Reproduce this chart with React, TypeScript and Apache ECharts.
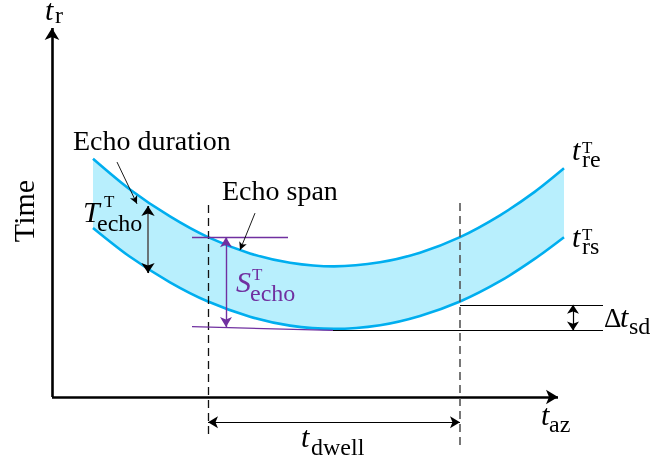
import React, { useEffect, useRef } from "react";
import * as echarts from "echarts";

// ---- curve data (azimuth time vs. range time, arbitrary units) ----
const azimuth = [0.82, 1.56, 2.36, 3.12, 3.96, 4.76, 5.64, 6.56, 7.36, 8.16, 8.96, 9.66, 10.24];
const echoEnd = [6.44, 5.61, 4.88, 4.32, 3.88, 3.63, 3.53, 3.64, 3.9, 4.32, 4.91, 5.55, 6.18]; // t_re^T
const echoStart = [4.57, 3.79, 3.1, 2.58, 2.17, 1.93, 1.84, 1.94, 2.19, 2.58, 3.13, 3.74, 4.32]; // t_rs^T

// ---- annotation values ----
const xAxisEnd = 10.12;
const yAxisEnd = 9.97;
const dwellAz = [3.12, 8.16];
const dwellTop = [5.19, 5.24];
const dwellBottom = [-1.03, -1.3];
const dwellArrowY = -0.68;
const spanTopY = 4.32;
const spanTopAz = [2.8, 4.72];
const spanArrowAz = 3.48;
const spanArrowY = [4.32, 1.89];
const tangentStart = [2.8, 1.9];
const tangentMid = [5.62, 1.8];
const refLineEndAz = 11.02;
const sdTopY = 2.49;
const sdArrowAz = 10.42;
const sdArrowY = [2.49, 1.8];
const durArrowAz = 1.92;
const durArrowY = [5.16, 3.35];
const durHeadLen = 0.2;
const durPointer = [[1.3, 6.35], [1.7, 5.22]];
const spanPointer = [[4.06, 4.97], [3.76, 3.97]];

const labelEchoDuration = "Echo duration";
const labelEchoSpan = "Echo span";
const labelTime = "Time";

const BLUE = "#00AEEF";
const FILL = "#B8EFFD";
const PURPLE = "#7030A0";
const SERIF = '"Liberation Serif", "Times New Roman", serif';

function txt(x: number, baseline: number, text: string, size: number, italic = false, color = "#000") {
  return {
    type: "text",
    x,
    y: baseline - 0.34 * size,
    silent: true,
    z: 10,
    style: {
      text,
      fontSize: size,
      fontFamily: SERIF,
      fontStyle: italic ? "italic" : "normal",
      fill: color,
      align: "left",
      verticalAlign: "middle",
    },
  };
}

function seg(a: number[], b: number[], style: any, symA = "none", symB = "none", size: number[] = [10, 10]) {
  return [
    { coord: a, symbol: symA, symbolSize: size, lineStyle: style },
    { coord: b, symbol: symB, symbolSize: size },
  ];
}

const App = () => {
  const ref = useRef<HTMLDivElement>(null);
  useEffect(() => {
    const chart = echarts.init(ref.current!, undefined, { renderer: "svg" });
    const black = (w: number) => ({ color: "#000", width: w, type: "solid" });
    const purple = (w: number) => ({ color: PURPLE, width: w, type: "solid" });
    const dashed = (c: string, w: number) => ({ color: c, width: w, type: [8, 5] });

    const marks = [
      seg([0, 0], [xAxisEnd, 0], black(2.6), "none", "arrow", [11, 12]),
      seg([0, 0], [0, yAxisEnd], black(2.6), "none", "arrow", [11, 12]),
      seg([dwellAz[0], dwellTop[0]], [dwellAz[0], dwellBottom[0]], dashed("#111", 1.3)),
      seg([dwellAz[1], dwellTop[1]], [dwellAz[1], dwellBottom[1]], dashed("#555", 1.6)),
      seg([dwellAz[0], dwellArrowY], [dwellAz[1], dwellArrowY], black(1.2), "arrow", "arrow", [9, 10]),
      seg([spanTopAz[0], spanTopY], [spanTopAz[1], spanTopY], purple(1.3)),
      seg([spanArrowAz, spanArrowY[0]], [spanArrowAz, spanArrowY[1]], purple(1.4), "arrow", "arrow", [9, 10]),
      seg(tangentStart, tangentMid, purple(1.3)),
      seg(tangentMid, [refLineEndAz, tangentMid[1]], black(1.2)),
      seg([dwellAz[1], sdTopY], [refLineEndAz, sdTopY], black(1.2)),
      seg([sdArrowAz, sdArrowY[0]], [sdArrowAz, sdArrowY[1]], black(1.2), "arrow", "arrow", [9, 9]),
      seg([durArrowAz, durArrowY[0]], [durArrowAz, durArrowY[1]], { color: "#555", width: 1.6, type: "solid" }),
      seg([durArrowAz, durArrowY[0] - durHeadLen], [durArrowAz, durArrowY[0]], black(1.2), "none", "arrow", [10, 10]),
      seg([durArrowAz, durArrowY[1] + durHeadLen], [durArrowAz, durArrowY[1]], black(1.2), "none", "arrow", [10, 10]),
      seg(durPointer[0], durPointer[1], black(0.9), "none", "arrow", [6, 8]),
      seg(spanPointer[0], spanPointer[1], black(0.9), "none", "arrow", [6, 8]),
    ];

    const bandData = azimuth.map((x, i) => [x, echoStart[i], echoEnd[i]]);

    chart.setOption({
      animation: false,
      grid: { left: 2, right: 5, top: 8.5, bottom: 10.5 },
      xAxis: { type: "value", min: -1, max: 12, show: false },
      yAxis: { type: "value", min: -1.5, max: 10.5, show: false },
      series: [
        {
          type: "custom",
          z: 1,
          silent: true,
          data: bandData,
          encode: { x: 0, y: [1, 2] },
          renderItem: (params: any, api: any) => {
            if (params.dataIndex !== 0) return null;
            const top = azimuth.map((x, i) => api.coord([x, echoEnd[i]]));
            const bot = azimuth.map((x, i) => api.coord([x, echoStart[i]])).reverse();
            return {
              type: "polygon",
              shape: { points: top.concat(bot) },
              style: { fill: FILL, stroke: "none" },
            };
          },
        },
        {
          type: "line",
          z: 2,
          silent: true,
          smooth: 0.3,
          symbol: "none",
          data: azimuth.map((x, i) => [x, echoEnd[i]]),
          lineStyle: { color: BLUE, width: 2.6 },
        },
        {
          type: "line",
          z: 2,
          silent: true,
          smooth: 0.3,
          symbol: "none",
          data: azimuth.map((x, i) => [x, echoStart[i]]),
          lineStyle: { color: BLUE, width: 2.6 },
        },
        {
          type: "line",
          z: 3,
          silent: true,
          data: [],
          markLine: {
            silent: true,
            animation: false,
            label: { show: false },
            emphasis: { disabled: true },
            data: marks,
          },
        },
      ],
      graphic: [
        // axis labels
        txt(45, 20, "t", 30, true),
        txt(55, 23, "r", 24),
        {
          type: "text",
          x: 23,
          y: 211,
          rotation: Math.PI / 2,
          silent: true,
          style: { text: labelTime, fontSize: 30, fontFamily: SERIF, fill: "#000", align: "center", verticalAlign: "middle" },
        },
        txt(541, 425, "t", 30, true),
        txt(549, 432, "az", 24),
        txt(301, 447, "t", 30, true),
        txt(311, 455, "dwell", 24),
        // curve labels
        txt(572, 160, "t", 30, true),
        txt(582, 153, "T", 17),
        txt(582, 167, "re", 24),
        txt(572, 247, "t", 30, true),
        txt(582, 240, "T", 17),
        txt(582, 254, "rs", 24),
        txt(604, 327, "Δ", 27),
        txt(620, 327, "t", 30, true),
        txt(629, 334, "sd", 24),
        // annotations
        txt(73, 150, labelEchoDuration, 28),
        txt(222, 200, labelEchoSpan, 28),
        txt(83, 222, "T", 30, true),
        txt(104, 207, "T", 17),
        txt(97, 231, "echo", 24),
        txt(236, 292, "S", 30, true, PURPLE),
        txt(252, 280, "T", 17, false, PURPLE),
        txt(250, 301, "echo", 24, false, PURPLE),
      ],
    });
    return () => chart.dispose();
  }, []);
  return <div ref={ref} style={{ position: "fixed", left: 0, top: 0, width: 657, height: 463 }} />;
};

export default App;
